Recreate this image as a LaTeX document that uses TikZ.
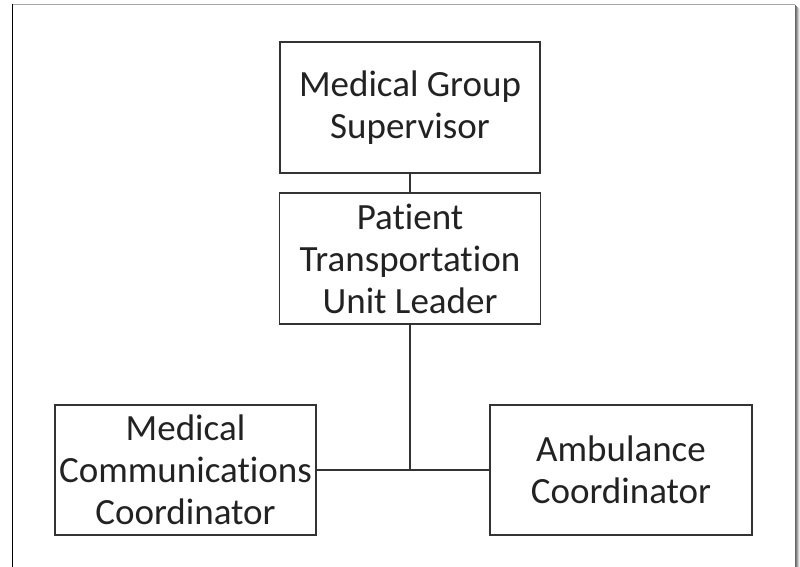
\documentclass[tikz,border=0pt]{standalone}
\usepackage{fontspec}
\setmainfont[Ligatures=NoCommon]{Carlito}
\definecolor{txt}{HTML}{222222}
\definecolor{edge}{HTML}{333333}
\tikzset{
  box/.style={draw=edge, line width=1.5pt, align=center, text=txt,
    font=\fontsize{37}{42}\selectfont, inner sep=0pt},
  link/.style={draw=edge, line width=1.5pt}
}
\begin{document}
\begin{tikzpicture}[x=1pt,y=-1pt]
\useasboundingbox (0,0) rectangle (800,567);
% frame
\draw[gray!70, line width=1pt] (12,4.5) -- (795,4.5);
\draw[black, line width=1.6pt] (12.5,4) -- (12.5,567);
\foreach \i/\c in {0/60,1/50,2/35,3/20,4/8}{
  \draw[black!\c, line width=1pt] (795.5+\i,5+\i) -- (795.5+\i,567);
}
% boxes
\node[box, minimum width=260pt, minimum height=131pt] (sup) at (410,107.5) {Medical Group\\Supervisor};
\node[box, minimum width=261pt, minimum height=131pt] (ptl) at (410,258.5) {Patient\\Transportation\\Unit Leader};
\node[box, minimum width=261pt, minimum height=130pt] (mcc) at (185.5,470) {Medical\\Communications\\Coordinator};
\node[box, minimum width=262pt, minimum height=130pt] (amb) at (621,470) {Ambulance\\Coordinator};
% connectors
\coordinate (j) at (ptl.south |- mcc.east);
\draw[link] (sup.south) -- (ptl.north);
\draw[link] (ptl.south) -- (j);
\draw[link] (mcc.east) -- (amb.west);
\end{tikzpicture}
\end{document}
